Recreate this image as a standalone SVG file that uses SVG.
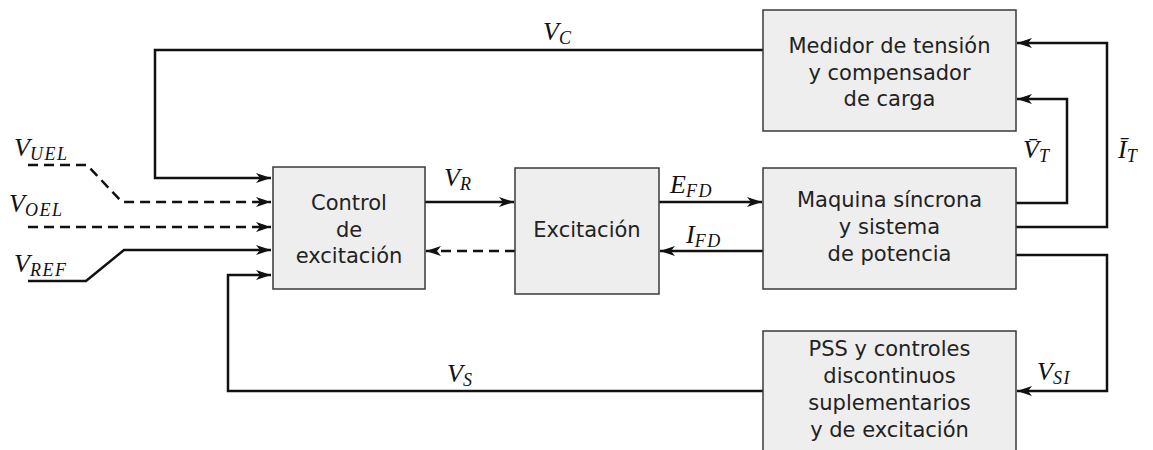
<svg xmlns="http://www.w3.org/2000/svg" width="1153" height="450" viewBox="0 0 1153 450">
<style>
.box{fill:#eeeeee;stroke:#3a3a3a;stroke-width:1.5}
.t{font-family:"DejaVu Sans",sans-serif;font-size:21px;fill:#222;text-anchor:middle}
.m{font-family:"Liberation Serif",serif;font-style:italic;font-size:26px;fill:#111}
.s{font-size:18px;letter-spacing:1.5px}
.c{fill:none;stroke:#111;stroke-width:2.5}
.d{stroke-dasharray:10,6}
.a{marker-end:url(#arr)}
</style>
<defs>
<marker id="arr" markerUnits="userSpaceOnUse" markerWidth="16" markerHeight="11" refX="15" refY="5.5" orient="auto">
<path d="M0,0.5 L15,5.5 L0,10.5 L4,5.5 z" fill="#111"/>
</marker>
</defs>
<rect width="1153" height="450" fill="#fff"/>
<g id="connectors">
<path class="c a" d="M763,50 L155,50 L155,178 L271,178"/>
<path class="c d a" d="M28,165 L87,165 L122,202 L271,202"/>
<path class="c d a" d="M28,227 L271,227"/>
<path class="c a" d="M28,281 L86,281 L124,250 L271,250"/>
<path class="c a" d="M763,391 L228,391 L228,275 L271,275"/>
<path class="c a" d="M425,202 L514,202"/>
<path class="c d a" d="M515,251 L426,251"/>
<path class="c a" d="M659,202 L762,202"/>
<path class="c a" d="M763,251 L660,251"/>
<path class="c a" d="M1016,203 L1067,203 L1067,99 L1017,99"/>
<path class="c a" d="M1016,227 L1107,227 L1107,43 L1017,43"/>
<path class="c a" d="M1016,255 L1107,255 L1107,391 L1017,391"/>
</g>
<g id="labels">
<text class="m" x="543" y="40">V<tspan class="s" dy="4">C</tspan></text>
<text class="m" x="14" y="156">V<tspan class="s" dy="4">UEL</tspan></text>
<text class="m" x="9" y="212">V<tspan class="s" dy="4">OEL</tspan></text>
<text class="m" x="14" y="272">V<tspan class="s" dy="4">REF</tspan></text>
<text class="m" x="444" y="186">V<tspan class="s" dy="4">R</tspan></text>
<text class="m" x="670" y="193">E<tspan class="s" dy="4">FD</tspan></text>
<text class="m" x="686" y="243">I<tspan class="s" dy="4">FD</tspan></text>
<text class="m" x="447" y="382">V<tspan class="s" dy="4">S</tspan></text>
<text class="m" x="1037" y="380">V<tspan class="s" dy="4">SI</tspan></text>
<text class="m" x="1023" y="158">V̄<tspan class="s" dy="4">T</tspan></text>
<text class="m" x="1118" y="158">Ī<tspan class="s" dy="4">T</tspan></text>
</g>
<g id="medidor">
<rect class="box" x="763" y="10" width="253" height="121"/>
<text class="t" x="889.5" y="53">Medidor de tensión</text>
<text class="t" x="889.5" y="79.5">y compensador</text>
<text class="t" x="889.5" y="106">de carga</text>
</g>
<g id="maquina">
<rect class="box" x="763" y="168" width="253" height="121"/>
<text class="t" x="889.5" y="207">Maquina síncrona</text>
<text class="t" x="889.5" y="234">y sistema</text>
<text class="t" x="889.5" y="261">de potencia</text>
</g>
<g id="pss">
<rect class="box" x="763" y="331" width="253" height="125"/>
<text class="t" x="889.5" y="356">PSS y controles</text>
<text class="t" x="889.5" y="383">discontinuos</text>
<text class="t" x="889.5" y="410">suplementarios</text>
<text class="t" x="889.5" y="437">y de excitación</text>
</g>
<g id="control">
<rect class="box" x="273" y="167" width="152" height="122"/>
<text class="t" x="349" y="210">Control</text>
<text class="t" x="349" y="237">de</text>
<text class="t" x="349" y="263">excitación</text>
</g>
<g id="excitacion">
<rect class="box" x="515" y="168" width="144" height="126"/>
<text class="t" x="587" y="237">Excitación</text>
</g>
</svg>
